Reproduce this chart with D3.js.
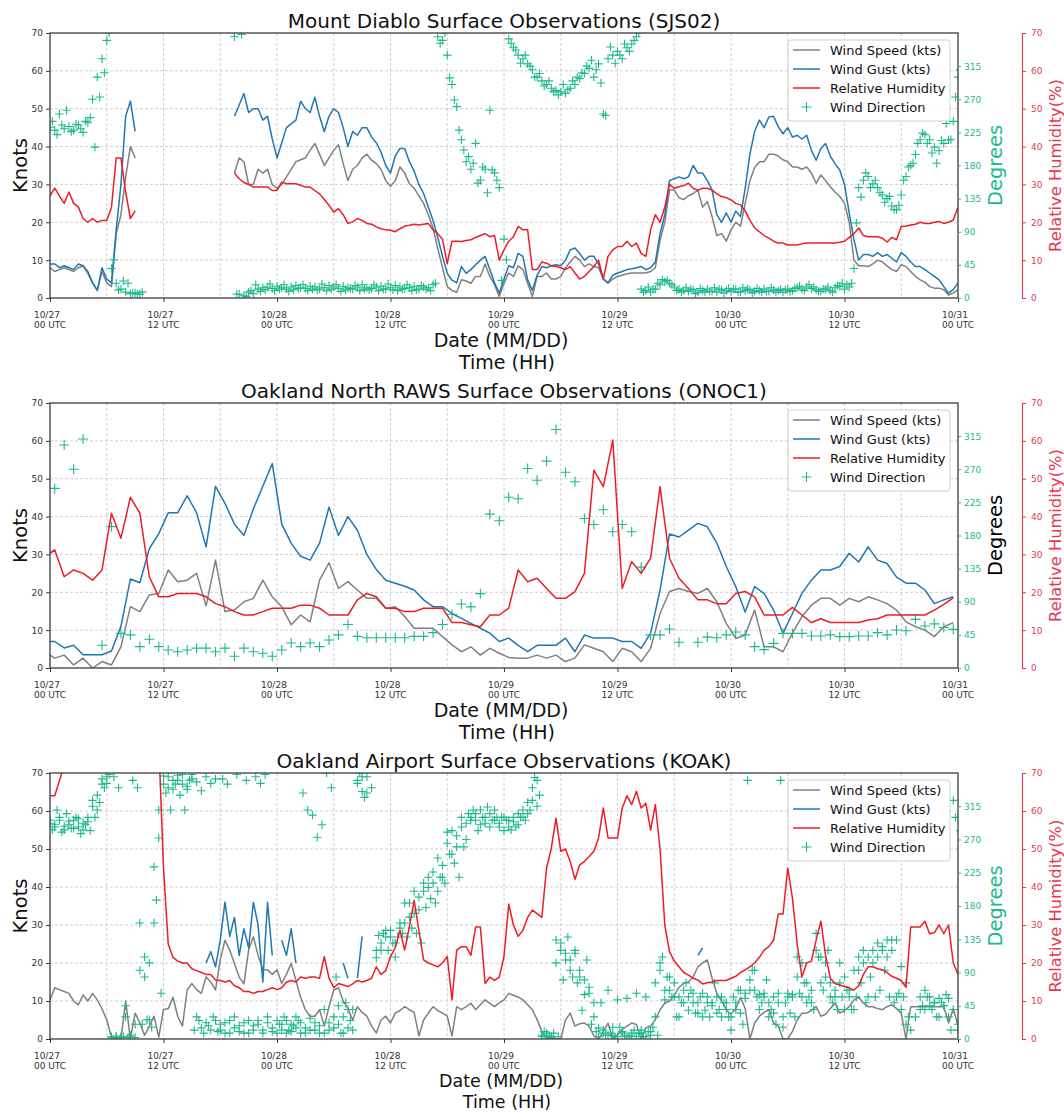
<!DOCTYPE html>
<html><head><meta charset="utf-8">
<script src="https://cdn.jsdelivr.net/npm/d3@7"></script>
<style>body{margin:0;background:#fff} svg text{font-family:"DejaVu Sans",sans-serif}</style>
</head><body>
<script>
// ---------------- DATA ----------------
const dateLabels = ['10/27','10/27','10/28','10/28','10/29','10/29','10/30','10/30','10/31'];
const hourLabels = ['00 UTC','12 UTC','00 UTC','12 UTC','00 UTC','12 UTC','00 UTC','12 UTC','00 UTC'];
const knotTicks = [0,10,20,30,40,50,60,70];
const degreeTicks = [0,45,90,135,180,225,270,315];
const rhTicks = [0,10,20,30,40,50,60,70];
const seriesNames = ['Wind Speed (kts)','Wind Gust (kts)','Relative Humidity','Wind Direction'];
const titles = ['Mount Diablo Surface Observations (SJS02)','Oakland North RAWS Surface Observations (ONOC1)','Oakland Airport Surface Observations (KOAK)'];

// observation time bases (hours since 10/27 00 UTC)
const halfHourly = d3.range(0, 96.5, 0.5);
const halfHourlyQ = d3.range(0.25, 96.5, 0.5);
const onocTimes = [0].concat(d3.range(0.5, 96, 1));

// --- Mount Diablo (SJS02), half-hourly ---
const sjsSpeed = [8,7,7.5,8,7.5,7,8,8.5,6.5,4,2,7,4,3,17,22,32,40,37,
  null,null,null,null,null,null,null,null,null,null,null,null,null,null,null,null,null,null,null,null,
  33,37,36,30,30,34,33,34,30,29, 30,32,34,36,36.5,37,39,40.8,38,35,
  37,39,40.5,35.5,31,34,35,37,38,36.4, 35.5,34,31,29.5,31,34.6,33,30.2,29,27,
  25,22,18.5,13,8,3,2,1.5,
  4.8,4.5,3.9,5.7,5.7,9,5.7,3.5,0.4,3.9, 6.6,5.7,8.5,7.5,3.9,0.4,5.7,5.7,6.6,5,
  5,5.7,8,9.5,11,10,8.3,9,8.3,8, 5,4,5,5.7,6,6.4,6.6,6.6,6.6,6.6,
  7,8,15.3,20,28.5,28.5,26.5,26,27,27.6, 28.5,24,
  25.5,21.5,16.5,17,15,18,20,19,25,31, 34.5,36,36,38,38,37.5,36.5,36,34.6,34.6,
  34,34.6,33,30.3,32.5,31,29.4,28,26.8,25, 20,10,8.5,8.5,8.3,9,10,9.5,8.5,7.5,
  7,8.8,8.3,7,5.7,4.8,4.2,3,2.6,2.6, 2.2,0.8,1.3,2.2];
const sjsGust = [9,9,8,8.5,8,7.5,9,8.5,7,4,2,8,5,4,18,30,48,52,44,
  null,null,null,null,null,null,null,null,null,null,null,null,null,null,null,null,null,null,null,null,
  48,51,54,49,50,50,47,48,42,37, 41,45,46,47,52,50,49,53,48,44,
  48,50,49,45,40,44,43,45,45,42.5, 41,38.5,35,33,37.5,39.5,39.5,36,33.5,30,
  27.6,24,20.5,16,11,6.5,4.7,4,
  8.3,6.5,7.5,8.8,10,11,7.5,4,1.3,5, 8.5,8,11.8,11,4.8,2,6,8.3,8,8.5,
  8.8,8.5,10,12.7,13.2,11.8,10,11,11,9, 5,4,6,6.6,7,7.5,7.7,8,8.3,7.5,
  8,9.5,17,22,31,31.5,32,31.5,32,35, 33,33,
  31,28.5,22,20,22.5,20,23,21.5,29,38, 44,47,45,47.8,48,45.2,43.4,45,42.5,43,
  42,43,39,36.4,39.5,40.8,37.5,35.5,33.8,30, 22.4,15.4,10,11.5,11.5,11,12,11,11.5,10.5,
  9.5,12,11,9.5,8.3,8.3,7.5,6.6,5.7,4.8, 3,1.3,2.2,4];
const sjsRH = [27,29,27,25,28,25,24,21,20,21,20,20.5,20.5,24,37,37,28,21,23,
  null,null,null,null,null,null,null,null,null,null,null,null,null,null,null,null,null,null,null,null,
  33,31.5,30.5,30,29.3,29.3,29.3,29.3,28.4,28.4, 30.6,30.2,30.2,30.2,29.8,29.3,29.3,28.4,27.5,26,
  24.5,22.7,23.6,22,19.7,20.1,21,20.5,19.7,19.5, 18.8,18.3,18,17.9,17.5,18.3,19,19.2,19.5,19.3,
  19.5,19.7,18,17,15.5,9.1,15,15,
  14.9,15.2,15.4,16,16.5,17,16.2,16.5,10,12.7, 15,16.2,18.9,18,18,7.5,7.5,9.5,9.2,8.5,
  8.3,8,7.5,8.3,6.6,5,5.7,7,8.3,10, 5,11,12.7,13.6,13.6,15,13.6,14.5,11.8,11,
  18,22,20,24,30,29,29.4,29.7,30.3,29, 28.5,29,
  29,28.5,27.5,26.8,26.5,25.9,25,24.6,23,20.5, 18.5,17.5,16.5,15.8,15,14.5,14.5,14,14,14,
  14.3,14.5,14.5,14.5,14.5,14.5,14.5,14.5,14.7,15, 16,17,18.5,16.5,16.2,16.2,16.2,15.8,14.8,16,
  15.4,18.9,19,19.3,19.5,20,19.7,19.7,20,20.2, 19.7,20,20.6,24];
// half-hourly wind direction (degrees)
const sjsDirA = [232,228,250,230,233,228,235,225,238,270,300,325,350,
  40,20,12,8,6,7,5,
  null,null,null,null,null,null,null,null,null,null,null,null,null,null,null,null,null,null,null,
  355,
  5,3,8,6,12,14,15,13,16,14,12,15,17,14,13,16,15,12,14,17,15,13,16,14,12,15,18,14,13,15,16,12,14,17,15,13,14,16,12,15,14,18,
  355,350,330,290,260,215,185,175,210,160,175,255,170,150,80,352,340,330,325,318,310,300,295,290,285,282,280,278,285,290,298,305,312,300,318,250,325,330,335,325,340,345,355,
  12,10,8,12,18,22,20,15,12,10,9,11,8,10,12,9,8,11,10,9,12,8,10,11,9,10,12,9,11,10,8,12,10,14,12,15,13,11,9,12,10,14,16,12,
  15,40,150,160,165,155,150,140,135,125,120,140,165,180,195,215,222,215,205,200,210,215,240,300];
const sjsDirB = [240,222,235,255,226,236,230,240,245,205,273,306,360,
  52,11,23,20,7,5,8,
  null,null,null,null,null,null,null,null,null,null,null,null,null,null,null,null,null,null,null,
  5,
  358,2,10,18,9,11,19,10,12,18,9,11,13,18,10,12,11,19,10,12,18,9,11,13,17,10,12,11,18,10,12,19,11,10,12,18,10,11,17,12,10,20,
  346,360,299,269,228,201,192,183,156,178,143,174,160,24,52,346,337,319,330,315,300,305,288,295,280,276,290,283,295,300,306,315,323,310,292,248,341,319,330,345,335,350,360,
  8,15,12,20,25,24,18,10,8,14,12,6,13,8,9,14,12,7,13,12,8,14,12,7,13,8,9,14,8,12,11,9,13,16,10,18,15,9,12,15,8,17,20,18,
  20,102,137,170,150,160,143,130,138,120,126,160,178,183,210,224,210,197,183,214,237,215,273,310];

// --- Oakland North RAWS (ONOC1), hourly at :30 ---
const onocSpeed = [3.4,
  2.6,3.4,0.8,2.6,0,1.7,0.8,5.6,16.2,14.9,
  19.3,19.7,25.9,22.8,23.2,25,16.4,28.5,14.9,15.3,
  17.5,18.4,23.2,18.8,16.2,11.4,14,12.2,23.2,27.8,
  21,22.8,20.6,18.4,18.4,15.8,16.2,13.6,10.5,10.5,
  10.5,8.3,6.1,4.3,5.6,3.4,5.2,3.9,2.8,2.6,
  2.6,3.4,2.6,3.4,1.7,2.6,6.1,5.2,4.3,1.7,
  5.2,4.3,1.7,5.2,14.4,20.2,21,20.2,19.7,21,
  17.5,11.8,7.8,8.7,15.3,5.6,5.6,4.3,9.2,13.6,
  16.6,18.4,18.4,16.6,18.4,17.5,18.8,18,17,15.3,
  12.2,10.9,10,8.3,10.9,12];
const onocGust = [7,
  7,5.3,6,3.5,3.5,3.5,4.5,11,23.5,22.5,
  31.5,35.5,41,41,45.5,41,32,48,43.5,38,
  35,42,48,54,38,33,29.5,28.5,33,42.5,
  35,40,36.4,30,26,23.2,22.4,21.6,20.6,18,
  16.2,16.2,14.4,13.1,11.8,10.5,9.2,7,7.9,6,
  4.3,6,6,6,7.9,4.3,8.7,7.9,7.9,7.9,
  7,7,5.2,9.2,20.6,35.4,34.6,36.4,38.2,37.3,
  33,26.8,21.5,14.8,21.5,19.7,15.3,9.2,14.4,19.7,
  23.2,25.9,25.9,26.8,30.3,28,32,28.5,27.6,24,
  22.4,22.4,20.6,17,18,18.8];
const onocRH = [30.3,
  31.2,24.1,25.9,25,23.2,25.9,40.9,34.3,45.1,40.9,
  24.1,18.8,18.8,19.7,19.7,19.7,18.8,17,16.2,14.9,
  14,14,14.9,15.8,15.8,15.8,16.6,16.6,15.8,14,
  14,14,18,19.7,18.8,15.8,15.8,14.9,14.9,15.8,
  15.8,15.8,12,12,11.4,10.9,14,14,15.8,25.9,
  22.8,23.7,21,18.4,18.4,20.2,25,52.3,47.9,60.2,
  21,28.1,25,29,47.9,29,23.7,21,18,18,
  17,17,19.7,20.2,18.8,14,14,14,16,14,
  12,13,12,12,12,12,12.7,13,14,14,
  14,14,14,15.3,16.8,18.5];
const onocDir = [null,
  244,303,270,311,null,31,192,47,45,29,
  39,29,24.5,22,24.5,27,27,22,27,16,
  27,22,20,16,24.5,34,29,34,29,38,
  45,59,43,41,41,41,41,41,43,43,
  48,59,73,87,83,101,209,200,232,230,
  271,255,281,324,266,253,203,195,215,185,
  195,185,137,45,45,53,35,null,35,42,
  41,45,49,45,29,25,33.5,47,47,47,
  43.5,43.5,45,42.6,42.6,43.5,43.5,48,45,51.6,
  50.7,66,57,60,55,52.5];

// --- Oakland Airport (KOAK), half-hourly ---
const koakSpeed = [10.3,13.5,13,12.5,12,10,9,11.6,10,12,
  10.3,8,5,0.5,0,0,10,0,6.8,4.2,
  1,3.4,6,0.5,7.7,8,11,6,3.4,12.9,
  14.6,13,12,16.3,15,12.9,20.8,26,23.4,19.9,
  16.3,14.5,23.4,26.9,22,18.2,18.2,17,18.2,14.6,
  17,19.9,15.4,11,7.7,6,6,7.7,3.4,8.5,
  12.9,13.5,10,8,5,8.5,7,6,3.4,1.6,
  5,6,4.2,6.8,7.5,8.5,7.7,7,0.8,5,
  6.8,8.5,7.5,6.8,6,0.8,8.5,7.7,8.5,9.4,
  7.7,9,10.3,9.4,8.5,9.5,10.3,12,11.5,11,
  10.3,9,7.7,5.1,2,0,0,0,0,5,
  6.8,3.4,4,4.2,3.4,0.8,0,2,4.2,0,
  1,2.5,3.4,4.2,3.8,0,3,3.4,5.1,7.7,
  9.4,10,11.5,13.6,14.6,15,16.3,19,20,20.8,
  16,12,10,7.7,6.5,8,11,8,0,4.2,
  6,7,7.7,4.2,3.4,0,0,2,5,6.8,
  6.8,7.5,8.5,6,6.5,8,9.4,6.8,7.5,8.5,
  10.3,11,9.5,8.5,8.5,8,7.7,8.5,9,8,
  6.8,0,8.5,8.5,8.5,8.5,8.5,8.5,8.5,8.5,
  4.2,8,3.4];
const koakRH = [64,64,68,72,78,80,80,80,80,80,
  80,80,80,80,80,80,80,80,80,80,
  80,80,80,78,45,25,21.5,20.5,20,20,
  18.5,18,17.5,17,17,15.5,15.4,15,15.4,14,
  13.5,12.5,12.5,12,12.5,12.5,13,13.5,13,13.5,
  15,15.4,15,16.3,16,16.3,16.3,16,21.7,16,
  13.5,14.6,14.2,13.8,14.5,15.4,15,15.4,16,19,
  17,18,21.7,24,28.6,23.4,29.5,36.5,28.6,20.8,
  20,19.5,19,20,21.7,10.3,23.4,24.3,24.3,22,
  29.5,29.5,14.6,16.3,15.4,16.3,21.7,35.5,30,27,
  28.6,32,33.9,33,32,45,50.2,58.1,49.4,50,
  46.7,42,45.8,46.7,48,49.4,52.9,60.8,52.9,52.9,
  52.9,60.8,64,61.7,65.2,60.8,62,55,61.7,50,
  30,23,20.5,19,17.5,16.8,16,15.5,14.5,14.8,
  15,15.4,15.4,15.4,16,16.5,17.5,18.2,19,20,
  21.5,23.4,24.3,26,32.9,32.9,45,37,25,16.3,
  20,20.5,26,31,22,16,14.6,14.2,13.8,13.4,
  12.9,14,17,19,19,18.5,18.2,17.5,16.5,16,
  15.4,13.6,29.5,29.5,29.5,31,27.7,28,30,27.7,
  30,20,17];
const koakGustTimes = [16.5,17,17.5,18,18.5,19,19.5,20,20.5,21,21.5,22,22.5,23,23.5,24,24.5,25,25.5,26,26.5,31,31.5,32,32.5,33,33.5,68.5,69];
const koakGustValues = [20,23,19,26,36,27,32,22,29,24,36,30,15,36,22,null,26,22,29,20,null,20,16,null,16,27,null,22,24];
const koakDirA = [296,290,300,288,295,285,298,292,300,
  315,330,345,355,
  3,2,3,45,3,20,
  157,84,103,233,310,
  345,355,338,350,358,342,352,348,336,355,346,352,
  20,8,25,15,10,22,8,18,25,12,30,15,8,20,25,10,15,22,8,28,12,18,8,22,15,
  45,30,15,40,
  350,335,355,340,110,
  130,138,147,111,157,
  184,165,200,175,211,
  219,211,200,235,265,
  250,275,287,270,300,
  305,290,300,287,310,
  287,282,296,300,290,
  310,320,323,350,3,
  3,2,134,120,
  116,107,116,93,80,70,49,
  15,8,66,5,53,10,55,8,62,12,57,5,76,103,53,
  84,76,57,66,39,49,35,62,49,45,57,30,
  49,12,40,66,55,80,
  93,60,57,49,35,62,16,57,60,111,
  103,76,49,143,111,103,76,66,
  103,84,57,93,111,120,
  111,120,130,125,134,120,134,
  98,76,269,282,
  57,40,45,49,30,45,55,323,20];
const koakDirB = [283,310,280,305,285,300,278,290,282,
  300,320,340,358,
  355,340,3,2,350,340,
  20,26,16,188,62,
  333,310,345,330,310,350,12,25,8,18,30,10,
  352,345,null,358,null,350,null,355,346,358,null,null,20,30,12,18,25,333,310,303,273,290,360,340,84,
  8,49,25,null,
  360,327,null,null,140,
  143,120,130,138,143,
  138,150,143,130,178,
  190,184,219,211,250,
  238,219,260,305,310,
  282,300,314,296,300,
  300,296,283,287,300,
  296,310,354,330,10,
  5,8,3,80,
  138,84,76,39,107,20,10,
  49,5,8,3,16,5,3,12,8,3,10,16,5,111,84,
  57,30,49,76,66,35,57,39,30,76,40,49,
  30,57,66,20,350,93,
  57,49,80,40,20,350,49,35,30,62,
  76,57,40,111,66,120,49,40,
  57,66,40,57,76,49,
  84,57,66,93,57,49,62,
  57,30,256,278,
  45,57,40,30,49,60,12,300,282];
const koakDirC = [292,287,296,283,290,296,287,283,294,
  323,310,352,346,
  2,4,2,30,5,2,
  93,111,26,157,272,
  356,340,350,357,345,338,358,30,15,22,12,25,
  12,22,8,30,18,8,25,12,20,8,22,10,25,12,8,20,30,8,15,12,22,8,40,12,30,
  20,8,40,12,
  346,355,333,null,120,
  120,147,138,130,150,
  157,184,170,192,200,
  205,226,245,219,280,
  282,260,300,292,296,
  296,310,292,305,296,
  292,300,287,294,305,
  300,305,340,315,5,
  8,3,103,130,
  107,93,120,84,60,62,30,
  3,12,5,16,3,8,3,5,3,8,3,10,30,93,66,
  66,57,30,49,57,62,49,30,57,49,35,57,
  40,30,49,35,62,66,
  66,40,62,30,57,49,30,62,57,84,
  57,49,66,120,76,84,57,57,
  76,40,66,40,93,103,
  57,103,111,120,111,134,57,
  40,20,12,30,
  40,66,57,49,55,45,30,40,12];

// ---------------- DRAWING ----------------
const W = 1064, H = 1112;
const X0 = 50, X1 = 958, RHX = 1022;
const C = {speed:'#808080', gust:'#1f77b4', rh:'#ee1c25', dir:'#1db98d',
           rhAxis:'#e8364f', dirAxis:'#1db98d', spine:'#3c3c3c', grid:'#c4c4c4', tick:'#333'};
const FONT = '"DejaVu Sans", sans-serif';

const svg = d3.select('body').append('svg').attr('width', W).attr('height', H)
  .style('background', '#fff');
const x = d3.scaleLinear().domain([0, 96]).range([X0, X1]);

const panels = [
  {id:1, top:33, bottom:298, title:titles[0], titleY:28, degColor:C.dirAxis, dateDy:49, timeDy:71, xlSize:19,
   lines:[{t:halfHourly, v:sjsSpeed, c:C.speed}, {t:halfHourly, v:sjsGust, c:C.gust}],
   rh:{t:halfHourly, v:sjsRH},
   dirs:[{t:halfHourly, v:sjsDirA}, {t:halfHourlyQ, v:sjsDirB}], mk:4.2},
  {id:2, top:403, bottom:668, title:titles[1], titleY:398, degColor:'#000', dateDy:49, timeDy:71, xlSize:19,
   lines:[{t:onocTimes, v:onocSpeed, c:C.speed}, {t:onocTimes, v:onocGust, c:C.gust}],
   rh:{t:onocTimes, v:onocRH}, dirs:[{t:onocTimes, v:onocDir}], mk:5},
  {id:3, top:773, bottom:1039, title:titles[2], titleY:768, degColor:C.dirAxis, dateDy:48.2, timeDy:68.6, xlSize:17.5,
   lines:[{t:halfHourly, v:koakSpeed, c:C.speed}, {t:koakGustTimes, v:koakGustValues, c:C.gust}],
   rh:{t:halfHourly, v:koakRH},
   dirs:[{t:halfHourly, v:koakDirA}, {t:halfHourlyQ, v:koakDirB}, {t:halfHourly, v:koakDirC}], mk:4.2}
];

const toPts = (ts, vs) => ts.map((t, i) => ({t, v: vs[i]}));
const plusPath = s => `M${-s},0H${s}M0,${-s}V${s}`;

panels.forEach(p => {
  const g = svg.append('g');
  const yK = d3.scaleLinear().domain([0, 70]).range([p.bottom, p.top]);
  const yD = d3.scaleLinear().domain([0, 360]).range([p.bottom, p.top]);
  const yR = d3.scaleLinear().domain([0, 70]).range([p.bottom, p.top]);
  const clipId = 'clip' + p.id;
  svg.append('clipPath').attr('id', clipId).append('rect')
    .attr('x', X0).attr('y', p.top).attr('width', X1 - X0).attr('height', p.bottom - p.top);

  // grid
  const grid = g.append('g').attr('stroke', C.grid).attr('stroke-width', 0.8).attr('stroke-dasharray', '3,2');
  d3.range(6, 96, 6).forEach(h => grid.append('line')
    .attr('x1', x(h)).attr('x2', x(h)).attr('y1', p.top).attr('y2', p.bottom));
  knotTicks.slice(1, -1).forEach(v => grid.append('line')
    .attr('x1', X0).attr('x2', X1).attr('y1', yK(v)).attr('y2', yK(v)));

  const plot = g.append('g').attr('clip-path', `url(#${clipId})`);
  const mkLine = ys => d3.line().defined(d => d.v != null).x(d => x(d.t)).y(d => ys(d.v));
  p.lines.forEach(L => plot.append('path').datum(toPts(L.t, L.v))
    .attr('fill', 'none').attr('stroke', L.c).attr('stroke-width', 1.5)
    .attr('stroke-linejoin', 'round').attr('d', mkLine(yK)));
  p.dirs.forEach(D => plot.append('g').selectAll('path')
    .data(toPts(D.t, D.v).filter(d => d.v != null)).join('path')
    .attr('d', plusPath(p.mk)).attr('transform', d => `translate(${x(d.t)},${yD(d.v)})`)
    .attr('stroke', C.dir).attr('stroke-width', 1.1).attr('fill', 'none'));
  plot.append('path').datum(toPts(p.rh.t, p.rh.v))
    .attr('fill', 'none').attr('stroke', C.rh).attr('stroke-width', 1.5)
    .attr('stroke-linejoin', 'round').attr('d', mkLine(yR));

  // frame
  g.append('rect').attr('x', X0).attr('y', p.top).attr('width', X1 - X0).attr('height', p.bottom - p.top)
    .attr('fill', 'none').attr('stroke', C.spine).attr('stroke-width', 1.3);

  // left axis
  const axL = g.append('g').attr('transform', `translate(${X0},0)`)
    .call(d3.axisLeft(yK).tickValues(knotTicks).tickSize(4).tickPadding(3));
  axL.select('.domain').remove();
  axL.attr('font-family', FONT).attr('font-size', 9);
  axL.selectAll('text').attr('fill', C.tick);
  axL.selectAll('line').attr('stroke', C.spine);

  // bottom axis
  const xt = d3.range(0, 97, 12);
  const axB = g.append('g').attr('transform', `translate(0,${p.bottom})`)
    .call(d3.axisBottom(x).tickValues(xt).tickSize(4).tickFormat(''));
  axB.select('.domain').remove();
  axB.selectAll('line').attr('stroke', C.spine);
  xt.forEach((h, i) => {
    const tg = g.append('g').attr('font-family', FONT).attr('font-size', 9).attr('fill', C.tick);
    const t1 = tg.append('text').attr('y', p.bottom + 19.5).text(dateLabels[i]);
    const t2 = tg.append('text').attr('y', p.bottom + 29.5).text(hourLabels[i]);
    const w = Math.max(t1.node().getComputedTextLength(), t2.node().getComputedTextLength());
    t1.attr('x', x(h) - w / 2); t2.attr('x', x(h) - w / 2);
  });

  // right degrees axis
  const axD = g.append('g').attr('transform', `translate(${X1},0)`)
    .call(d3.axisRight(yD).tickValues(degreeTicks).tickSize(3).tickPadding(3));
  axD.select('.domain').remove();
  axD.attr('font-family', FONT).attr('font-size', 9);
  axD.selectAll('text').attr('fill', C.dirAxis);
  axD.selectAll('line').attr('stroke', C.dirAxis);

  // RH axis
  const axR = g.append('g').attr('transform', `translate(${RHX},0)`)
    .call(d3.axisRight(yR).tickValues(rhTicks).tickSize(4).tickSizeOuter(0).tickPadding(5));
  axR.attr('font-family', FONT).attr('font-size', 9);
  axR.select('.domain').attr('stroke', C.rhAxis).attr('stroke-width', 1.1);
  axR.selectAll('text').attr('fill', C.rhAxis);
  axR.selectAll('line').attr('stroke', C.rhAxis);

  // titles & labels
  const mid = (p.top + p.bottom) / 2;
  g.append('text').attr('x', (X0 + X1) / 2).attr('y', p.titleY).attr('text-anchor', 'middle')
    .attr('font-size', 20).attr('fill', '#111').text(p.title);
  g.append('text').attr('x', 501).attr('y', p.bottom + p.dateDy).attr('text-anchor', 'middle')
    .attr('font-size', p.xlSize).attr('fill', '#111').text('Date (MM/DD)');
  g.append('text').attr('x', 507).attr('y', p.bottom + p.timeDy).attr('text-anchor', 'middle')
    .attr('font-size', p.xlSize).attr('fill', '#111').text('Time (HH)');
  g.append('text').attr('transform', `translate(20,${mid}) rotate(-90)`).attr('dy', '0.35em')
    .attr('text-anchor', 'middle').attr('font-size', 19.5).attr('fill', '#111').text('Knots');
  g.append('text').attr('transform', `translate(995,${mid}) rotate(-90)`).attr('dy', '0.35em')
    .attr('text-anchor', 'middle').attr('font-size', 19.5).attr('fill', p.degColor).text('Degrees');
  g.append('text').attr('transform', `translate(1055,${mid}) rotate(-90)`).attr('dy', '0.35em')
    .attr('text-anchor', 'middle').attr('font-size', 16.3).attr('fill', C.rhAxis).text('Relative Humidity(%)');

  // legend
  const lg = g.append('g').attr('transform', `translate(788,${p.top + 7})`);
  lg.append('rect').attr('width', 162).attr('height', 81).attr('rx', 3)
    .attr('fill', '#fff').attr('fill-opacity', 0.85).attr('stroke', '#d0d0d0').attr('stroke-width', 1);
  const colors = [C.speed, C.gust, C.rh, C.dir];
  seriesNames.forEach((name, i) => {
    const yy = 10 + i * 19;
    if (i < 3) lg.append('line').attr('x1', 5).attr('x2', 32).attr('y1', yy).attr('y2', yy)
      .attr('stroke', colors[i]).attr('stroke-width', 1.5);
    else lg.append('path').attr('d', plusPath(5)).attr('transform', `translate(18.5,${yy})`)
      .attr('stroke', colors[i]).attr('stroke-width', 1.1);
    lg.append('text').attr('x', 42).attr('y', yy).attr('dy', '0.35em').attr('font-size', 13)
      .attr('fill', '#111').text(name);
  });
});
</script>
</body></html>
